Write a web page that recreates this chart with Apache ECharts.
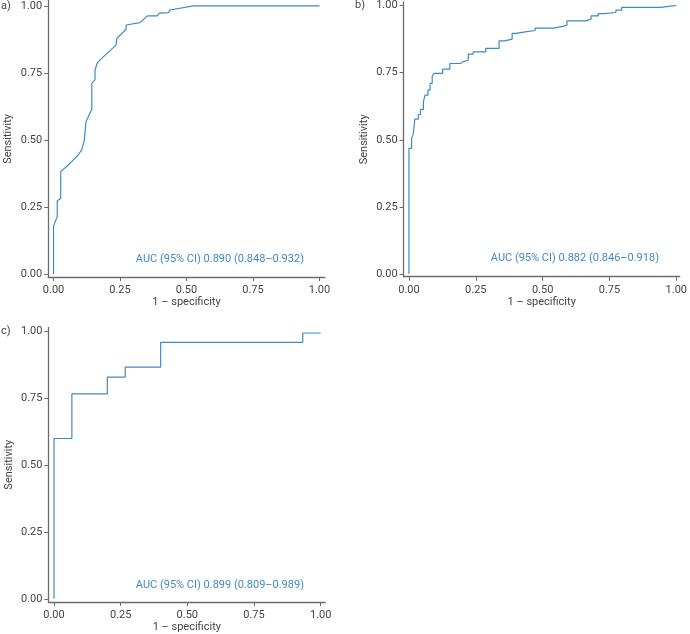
<!DOCTYPE html>
<html>
<head>
<meta charset="utf-8">
<script src="https://cdn.jsdelivr.net/npm/echarts@6/dist/echarts.min.js"></script>
<style>html,body{margin:0;padding:0;background:#fff}#c{width:690px;height:634px}</style>
</head>
<body>
<div id="c"></div>
<script>
// Panel a (smooth ROC)
const fprA = [0, 0, 0.014, 0.014, 0.027, 0.027, 0.05, 0.074, 0.092, 0.106, 0.116, 0.122, 0.144, 0.144, 0.156, 0.156, 0.165, 0.175, 0.235, 0.238, 0.273, 0.273, 0.325, 0.353, 0.39, 0.398, 0.432, 0.438, 0.526, 1.0];
const tprA = [0, 0.179, 0.214, 0.273, 0.282, 0.382, 0.402, 0.425, 0.443, 0.463, 0.5, 0.568, 0.615, 0.712, 0.724, 0.761, 0.788, 0.799, 0.854, 0.879, 0.913, 0.929, 0.938, 0.963, 0.963, 0.973, 0.975, 0.985, 1.0, 1.0];
// Panel b (step ROC)
const fprB = [0, 0, 0.01, 0.016, 0.022, 0.035, 0.043, 0.054, 0.060, 0.071, 0.079, 0.087, 0.093, 0.126, 0.153, 0.193, 0.201, 0.222, 0.240, 0.287, 0.337, 0.358, 0.386, 0.401, 0.435, 0.472, 0.541, 0.575, 0.591, 0.662, 0.681, 0.708, 0.731, 0.774, 0.796, 0.942, 0.979, 1.0];
const tprB = [0, 0.468, 0.505, 0.521, 0.577, 0.594, 0.613, 0.641, 0.666, 0.685, 0.710, 0.737, 0.747, 0.763, 0.784, 0.790, 0.796, 0.819, 0.827, 0.840, 0.868, 0.875, 0.896, 0.902, 0.907, 0.916, 0.922, 0.927, 0.943, 0.949, 0.961, 0.970, 0.974, 0.983, 0.993, 0.998, 1.0, 1.0];
// Panel c (step ROC)
const fprC = [0, 0, 0.067, 0.2, 0.267, 0.4, 0.933, 1.0];
const tprC = [0, 0.6, 0.767, 0.83, 0.867, 0.96, 0.995, 0.995];

const tickValues = [0, 0.25, 0.5, 0.75, 1];
const panelLabels = ['a)', 'b)', 'c)'];
const aucLabels = ['AUC (95% CI) 0.890 (0.848\u20130.932)', 'AUC (95% CI) 0.882 (0.846\u20130.918)', 'AUC (95% CI) 0.899 (0.809\u20130.989)'];
const xName = '1 \u2013 specificity';
const yName = 'Sensitivity';

const zip = (xs, ys) => xs.map((x, i) => [x, ys[i]]);
const LINE = '#3f8ac4';
const AXIS = '#6b6b6b';
const TXT = '#444';
const FONT = 'Roboto, "DejaVu Sans", sans-serif';

const grids = [
  {left: 48.2, top: 0.6, width: 276.6, height: 276.6},
  {left: 403.6, top: 1.8, width: 277.2, height: 274.9},
  {left: 48.4, top: 327.4, width: 276.8, height: 274.8}
];
const xr = [[-0.02, 1.02], [-0.02, 1.013], [-0.021, 1.017]];
const yr = [[-0.012, 1.02], [-0.01, 1.013], [-0.012, 1.016]];

function xAxis(i) {
  return {
    type: 'value', gridIndex: i, min: xr[i][0], max: xr[i][1],
    splitLine: {show: false},
    axisLine: {show: true, onZero: false, lineStyle: {color: AXIS, width: 1.3}},
    axisTick: {show: true, length: 4, customValues: tickValues, lineStyle: {color: AXIS, width: 1}},
    axisLabel: {customValues: tickValues, formatter: v => v.toFixed(2), color: TXT, fontSize: 11, fontFamily: FONT, margin: 8},
    name: xName, nameLocation: 'middle', nameGap: 20,
    nameTextStyle: {color: TXT, fontSize: 11, fontFamily: FONT}
  };
}
function yAxis(i) {
  return {
    type: 'value', gridIndex: i, min: yr[i][0], max: yr[i][1],
    splitLine: {show: false},
    axisLine: {show: true, onZero: false, lineStyle: {color: AXIS, width: 1.3}},
    axisTick: {show: true, length: 4, customValues: tickValues, lineStyle: {color: AXIS, width: 1}},
    axisLabel: {customValues: tickValues, formatter: v => v.toFixed(2), color: TXT, fontSize: 11, fontFamily: FONT, margin: 6},
    name: yName, nameLocation: 'middle', nameGap: 34,
    nameTextStyle: {color: TXT, fontSize: 11, fontFamily: FONT}
  };
}

const chart = echarts.init(document.getElementById('c'), null, {renderer: 'canvas'});
chart.setOption({
  backgroundColor: '#fff',
  animation: false,
  grid: grids,
  xAxis: [xAxis(0), xAxis(1), xAxis(2)],
  yAxis: [yAxis(0), yAxis(1), yAxis(2)],
  series: [
    {type: 'line', xAxisIndex: 0, yAxisIndex: 0, data: zip(fprA, tprA), symbol: 'none', lineStyle: {color: LINE, width: 1.2}},
    {type: 'line', xAxisIndex: 1, yAxisIndex: 1, data: zip(fprB, tprB), step: 'end', symbol: 'none', lineStyle: {color: LINE, width: 1.2}},
    {type: 'line', xAxisIndex: 2, yAxisIndex: 2, data: zip(fprC, tprC), step: 'end', symbol: 'none', lineStyle: {color: LINE, width: 1.2}}
  ],
  graphic: [
    {type: 'text', left: 1, top: 1, style: {text: panelLabels[0], fill: TXT, font: '11px ' + FONT}},
    {type: 'text', left: 355, top: 0, style: {text: panelLabels[1], fill: TXT, font: '11px ' + FONT}},
    {type: 'text', left: 1, top: 326, style: {text: panelLabels[2], fill: TXT, font: '11px ' + FONT}},
    {type: 'text', right: 690 - 304, top: 254, style: {text: aucLabels[0], fill: LINE, font: '11px ' + FONT}},
    {type: 'text', right: 690 - 659, top: 253, style: {text: aucLabels[1], fill: LINE, font: '11px ' + FONT}},
    {type: 'text', right: 690 - 304, top: 580, style: {text: aucLabels[2], fill: LINE, font: '11px ' + FONT}}
  ]
});
</script>
</body>
</html>
